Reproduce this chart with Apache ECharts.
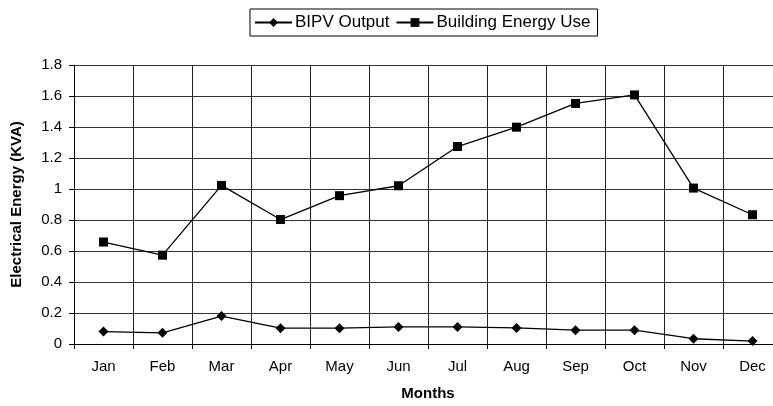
<!DOCTYPE html>
<html>
<head>
<meta charset="utf-8">
<script src="https://cdn.jsdelivr.net/npm/echarts@6/dist/echarts.min.js"></script>
<style>
  html, body { margin: 0; padding: 0; background: #fff; }
  #wrap { width: 773px; height: 406px; overflow: hidden; position: relative; }
  #main { width: 782px; height: 406px; }
</style>
</head>
<body>
<div id="wrap"><div id="main"></div></div>
<script>
var months = ['Jan', 'Feb', 'Mar', 'Apr', 'May', 'Jun', 'Jul', 'Aug', 'Sep', 'Oct', 'Nov', 'Dec'];
var bipvOutput = [0.08, 0.072, 0.18, 0.102, 0.102, 0.11, 0.11, 0.104, 0.089, 0.089, 0.034, 0.019];
var buildingUse = [0.658, 0.573, 1.023, 0.803, 0.957, 1.021, 1.274, 1.399, 1.552, 1.607, 1.006, 0.834];

// the plot runs past the right edge of the picture, so the canvas is a bit wider than the window
var myChart = echarts.init(document.getElementById('main'));
var font = 'Arial, "Liberation Sans", sans-serif';

var option = {
    backgroundColor: '#fff',
    animation: false,
    textStyle: { fontFamily: font, color: '#000' },
    legend: {
        left: 250,
        top: 9,
        padding: [5, 7, 5, 4],
        itemGap: 6,
        itemWidth: 37,
        itemHeight: 11,
        borderColor: '#000',
        borderWidth: 1,
        textStyle: { fontSize: 17, color: '#000', fontFamily: font, padding: [0, 0, 0, -2] },
        data: ['BIPV Output', 'Building Energy Use']
    },
    grid: {
        left: 74,
        right: 0,
        top: 65,
        bottom: 59
    },
    xAxis: {
        type: 'category',
        data: months,
        boundaryGap: true,
        name: 'Months',
        nameLocation: 'middle',
        nameGap: 42,
        nameTextStyle: { fontSize: 15, fontWeight: 'bold', color: '#000' },
        axisLine: { lineStyle: { color: '#000', width: 1 } },
        axisTick: { show: true, length: 5, lineStyle: { color: '#000' } },
        axisLabel: { fontSize: 15, color: '#000', margin: 15 },
        splitLine: { show: true, lineStyle: { color: '#222', width: 1 } }
    },
    yAxis: {
        type: 'value',
        min: 0,
        max: 1.8,
        interval: 0.2,
        name: 'Electrical Energy (KVA)',
        nameLocation: 'middle',
        nameGap: 50,
        nameTextStyle: { fontSize: 15, fontWeight: 'bold', color: '#000' },
        axisLine: { show: true, lineStyle: { color: '#000', width: 1 } },
        axisTick: { show: true, length: 5, lineStyle: { color: '#000' } },
        axisLabel: {
            fontSize: 15,
            color: '#000',
            margin: 12,
            formatter: function (v) { return String(Math.round(v * 10) / 10); }
        },
        splitLine: { show: true, lineStyle: { color: '#333', width: 1 } }
    },
    series: [
        {
            name: 'BIPV Output',
            type: 'line',
            data: bipvOutput,
            symbol: 'diamond',
            symbolSize: 10,
            itemStyle: { color: '#000' },
            lineStyle: { color: '#000', width: 1.3 }
        },
        {
            name: 'Building Energy Use',
            type: 'line',
            data: buildingUse,
            symbol: 'rect',
            symbolSize: 9,
            itemStyle: { color: '#000' },
            lineStyle: { color: '#000', width: 1.3 }
        }
    ]
};

myChart.setOption(option);
</script>
</body>
</html>
